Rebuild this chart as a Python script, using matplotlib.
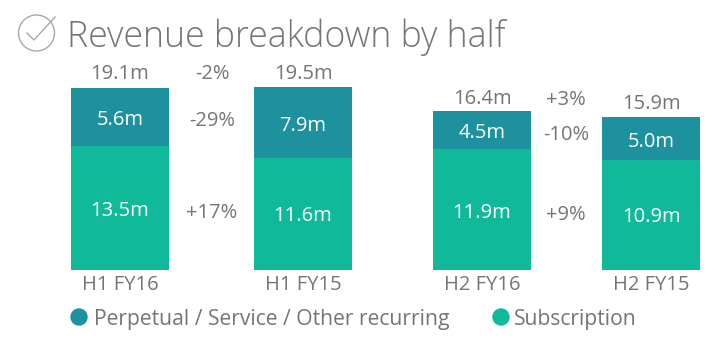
import matplotlib
matplotlib.use('Agg')
import matplotlib.pyplot as plt
from matplotlib.patches import Circle

plt.rcParams['font.family'] = ['Open Sans', 'DejaVu Sans']

labels = ['H1 FY16', 'H1 FY15', 'H2 FY16', 'H2 FY15']
# printed labels
subscription = [13.5, 11.6, 11.9, 10.9]
other = [5.6, 7.9, 4.5, 5.0]
totals = ['19.1m', '19.5m', '16.4m', '15.9m']
total_change = ['-2%', '+3%']
other_change = ['-29%', '-10%']
sub_change = ['+17%', '+9%']
# the bars as drawn are not quite to scale with the labels, so heights are read separately
subscription_drawn = [13.19, 11.91, 12.87, 11.7]
other_drawn = [6.17, 7.55, 4.04, 4.57]

TEAL = '#1d919e'
GREEN = '#0fb99a'
GREY = '#757575'

W, H = 726, 351
fig = plt.figure(figsize=(W / 100, H / 100), dpi=100)

# axes baseline at y=270, 9.4 px per unit
ax = fig.add_axes([0, (H - 270) / H, 1, 188 / H])
ax.set_xlim(0, W)
ax.set_ylim(0, 20)
ax.axis('off')

centers = [120, 303, 482, 651]
width = 98
ax.bar(centers, subscription_drawn, width, color=GREEN)
ax.bar(centers, other_drawn, width, bottom=subscription_drawn, color=TEAL)

def label(x, y, s, size=14.5, color=GREY, ha='center', **kw):
    fig.text(x / W, 1 - y / H, s, fontsize=size, color=color, ha=ha, va='center', **kw)

for x, y, a, b in zip(centers, [74, 74, 99.5, 103.5], totals, labels):
    label(x, y, a)
    label(x, 285.5, b)

for x, y, s in zip(centers, [211, 216.5, 213.5, 217.5], subscription):
    label(x, y, f'{s}m', color='white')
for x, y, s in zip(centers, [120, 126, 133, 141.5], other):
    label(x, y, f'{s}m', color='white')

for x, y, s in zip([212, 566], [74, 100], total_change):
    label(x, y, s)
for x, y, s in zip([212, 566], [121, 135.5], other_change):
    label(x, y, s)
for x, y, s in zip([212, 566], [212.5, 215.5], sub_change):
    label(x, y, s)

label(67, 37, 'Revenue breakdown by half', size=25.7, ha='left', weight='light')

label(94, 319, 'Perpetual / Service / Other recurring', size=15.2, ha='left')
label(514, 319, 'Subscription', size=15.2, ha='left')

overlay = fig.add_axes([0, 0, 1, 1])
overlay.set_xlim(0, W)
overlay.set_ylim(H, 0)
overlay.axis('off')
overlay.add_patch(Circle((79, 317), 8, color=TEAL))
overlay.add_patch(Circle((501, 317), 8, color=GREEN))
# tick icon
overlay.add_patch(Circle((36.5, 33), 18, fill=False, ec='#a8a8a8', lw=1))
overlay.plot([27, 34, 55], [33, 40, 17], color='#a8a8a8', lw=1)

fig.savefig('out.png', dpi=100)
